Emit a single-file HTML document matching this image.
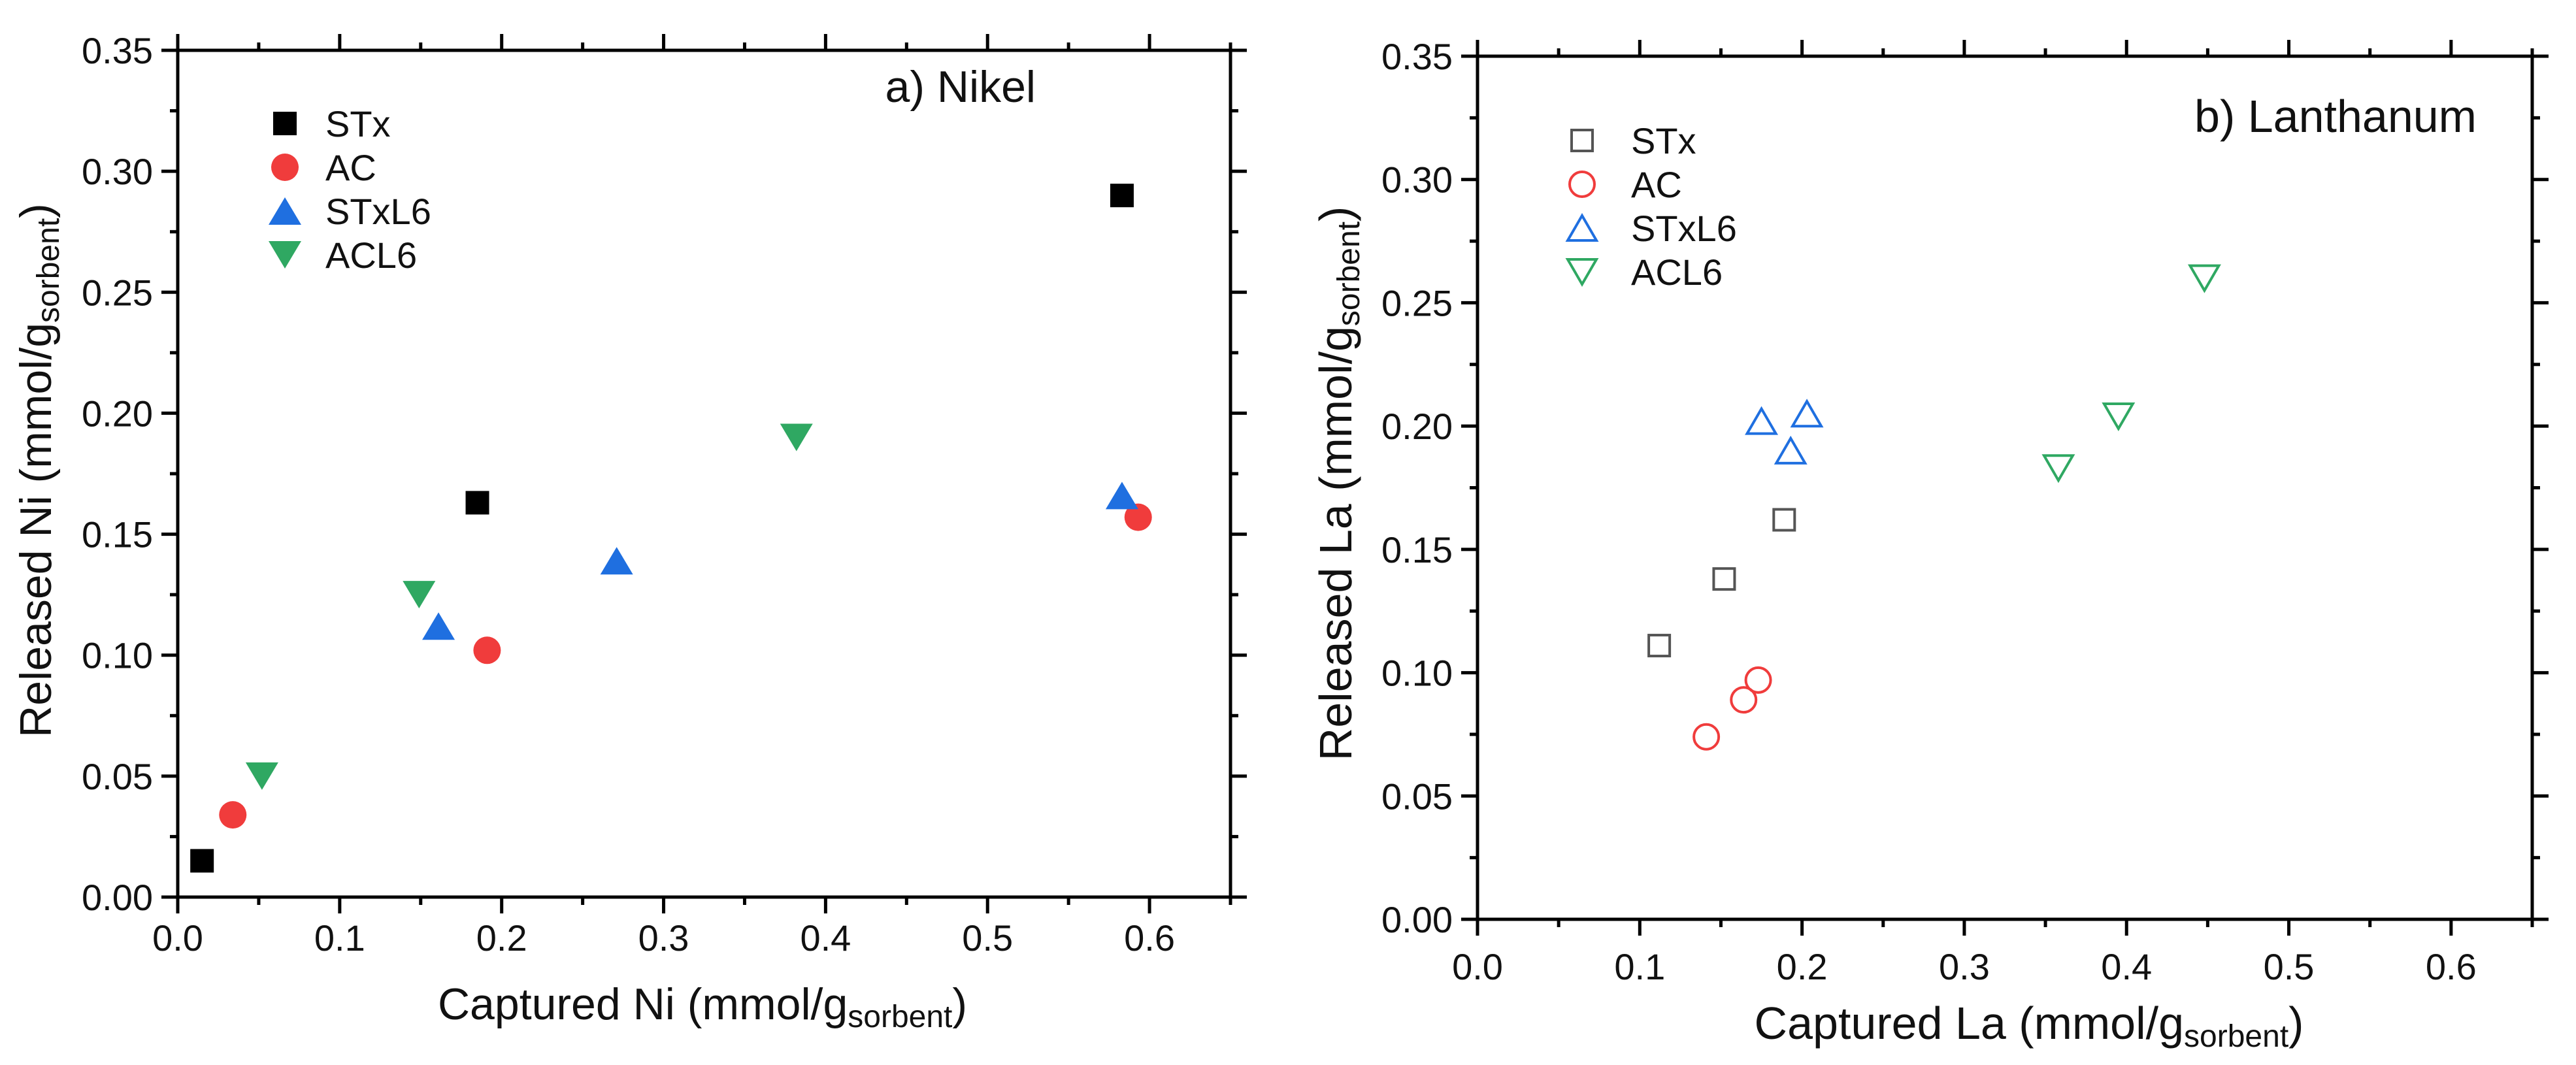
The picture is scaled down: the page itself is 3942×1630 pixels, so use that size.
<!DOCTYPE html>
<html><head><meta charset="utf-8">
<style>
html,body{margin:0;padding:0;background:#fff;}
svg{display:block;}
.tk{font-family:"Liberation Sans",Arial,sans-serif;font-size:56px;fill:#111;}
.tkn{font-family:"Liberation Sans Narrow","Liberation Sans",sans-serif;font-size:56px;fill:#111;}
.ttl{font-family:"Liberation Sans",Arial,sans-serif;font-size:68px;fill:#111;}
.ttln{font-family:"Liberation Sans Narrow","Liberation Sans",sans-serif;font-size:70px;fill:#111;}
</style></head>
<body>
<svg id="fig" width="3942" height="1630" viewBox="0 0 3942 1630" xmlns="http://www.w3.org/2000/svg"></svg>
<script>
const seriesNames = ["STx","AC","STxL6","ACL6"];
const niX = [[0.015,0.185,0.583],[0.034,0.191,0.593],[0.161,0.271,0.583],[0.052,0.149,0.382]];
const niY = [[0.015,0.163,0.290],[0.034,0.102,0.157],[0.112,0.139,0.166],[0.050,0.125,0.190]];
const laX = [[0.112,0.152,0.189],[0.141,0.164,0.173],[0.175,0.193,0.203],[0.358,0.395,0.448]];
const laY = [[0.111,0.138,0.162],[0.074,0.089,0.097],[0.202,0.190,0.205],[0.183,0.204,0.260]];
const xTicks = ["0.0","0.1","0.2","0.3","0.4","0.5","0.6"];
const yTicks = ["0.00","0.05","0.10","0.15","0.20","0.25","0.30","0.35"];
const colors = ["#000000","#f03c3c","#1f6fe0","#2fa862"];
const openColors = ["#555555","#f03c3c","#1f6fe0","#2fa862"];
const shapes = ["square","circle","up","down"];

const NS="http://www.w3.org/2000/svg";
const svg=document.getElementById('fig');
function el(tag,attrs,parent){const e=document.createElementNS(NS,tag);for(const k in attrs)e.setAttribute(k,attrs[k]);(parent||svg).appendChild(e);return e;}

function marker(g,shape,cx,cy,filled,color,name){
  let e;
  const st = filled?{fill:color,stroke:'none'}:{fill:'none',stroke:color,'stroke-width':4};
  if(shape==='square'){const s=filled?36:32;e=el('rect',Object.assign({x:cx-s/2,y:cy-s/2,width:s,height:s},st),g);}
  else if(shape==='circle'){e=el('circle',Object.assign({cx:cx,cy:cy,r:filled?21:19},st),g);}
  else if(shape==='up'){const w=filled?50:44,h=filled?42:38;e=el('polygon',Object.assign({points:`${cx-w/2},${cy+h/2} ${cx+w/2},${cy+h/2} ${cx},${cy-h/2}`},st),g);}
  else {const w=filled?50:44,h=filled?42:38;e=el('polygon',Object.assign({points:`${cx-w/2},${cy-h/2} ${cx+w/2},${cy-h/2} ${cx},${cy+h/2}`},st),g);}
  
  
  return e;
}

function panel(cfg){
  const g=el('g',{});
  
  
  const L=cfg.L,R=cfg.R,T=cfg.T,B=cfg.B;
  const sx=v=>L+(v/0.65)*(R-L);
  const sy=v=>B-(v/0.35)*(B-T);
  const frame=el('rect',{x:L,y:T,width:R-L,height:B-T,fill:'none',stroke:'#000','stroke-width':5},g);
  
  
  const ticks=el('g',{stroke:'#000','stroke-width':5},g);
  
  
  for(let i=0;i<=13;i++){
    const v=i*0.05,x=sx(v),len=(i%2===0)?25:12;
    el('line',{x1:x,y1:B,x2:x,y2:B+len},ticks);
    el('line',{x1:x,y1:T,x2:x,y2:T-len},ticks);
  }
  for(let i=0;i<=14;i++){
    const v=i*0.025,y=sy(v),len=(i%2===0)?25:12;
    el('line',{x1:L,y1:y,x2:L-len,y2:y},ticks);
    el('line',{x1:R,y1:y,x2:R+len,y2:y},ticks);
  }
  const cls=cfg.narrow?'tkn':'tk';
  xTicks.forEach((t,i)=>{
    const tx=el('text',{x:sx(parseFloat(t)),y:B+cfg.xlabOff,'text-anchor':'middle',class:cls},g);
    tx.textContent=t;
    
    
  });
  yTicks.forEach((t,i)=>{
    const tx=el('text',{x:L-38,y:sy(parseFloat(t))+20,'text-anchor':'end',class:cls},g);
    tx.textContent=t;
    
    
  });
  const tcls=cfg.narrow?'ttln':'ttl';
  const xt=el('text',{x:cfg.xtX,y:cfg.xtY,'text-anchor':'middle',class:tcls},g);
  xt.innerHTML=cfg.xtitle+' (mmol/g<tspan font-size="48" dy="12">sorbent</tspan><tspan dy="-12">)</tspan>';
  
  
  const yt=el('text',{x:0,y:0,'text-anchor':'middle',class:tcls,transform:`translate(${cfg.ytX},${cfg.ytY}) rotate(-90)`},g);
  yt.innerHTML=cfg.ytitle+' (mmol/g<tspan font-size="48" dy="12">sorbent</tspan><tspan dy="-12">)</tspan>';
  
  
  const pl=el('text',{x:cfg.plX,y:cfg.plY,'text-anchor':'end',class:tcls,'font-size':cfg.narrow?'66':'62'},g);
  pl.textContent=cfg.label;
  
  
  const lg=el('g',{},g);
  
  
  seriesNames.forEach((n,i)=>{
    const cy=cfg.lgY+i*67;
    marker(lg,shapes[i],cfg.lgX,cy,cfg.filled,cfg.filled?colors[i]:openColors[i],'legend-marker-'+n.toLowerCase());
    const t=el('text',{x:cfg.lgTX,y:cy+20,class:cls},lg);
    t.textContent=n;
    
    
  });
  cfg.xs.forEach((arr,i)=>{
    const sg=el('g',{},g);
    
    
    arr.forEach((xv,j)=>{
      const cy=sy(cfg.ys[i][j]);
      marker(sg,shapes[i],sx(xv),cy,cfg.filled,cfg.filled?colors[i]:openColors[i],'point-'+seriesNames[i].toLowerCase());
    });
  });
}

panel({id:'nickel-chart',L:272,R:1883,T:77,B:1373,filled:true,narrow:false,xlabOff:82,
  xs:niX,ys:niY,
  xtitle:'Captured Ni',ytitle:'Released Ni',xtX:1075,xtY:1560,ytX:78,ytY:720,
  label:'a) Nikel',plX:1585,plY:156,lgX:436,lgY:189,lgTX:498});
panel({id:'lanthanum-chart',L:2261,R:3875,T:86,B:1407,filled:false,narrow:true,xlabOff:92,
  xs:laX,ys:laY,
  xtitle:'Captured La',ytitle:'Released La',xtX:3105,xtY:1590,ytX:2068,ytY:740,
  label:'b) Lanthanum',plX:3790,plY:202,lgX:2421,lgY:215,lgTX:2496});
</script>
</body></html>
